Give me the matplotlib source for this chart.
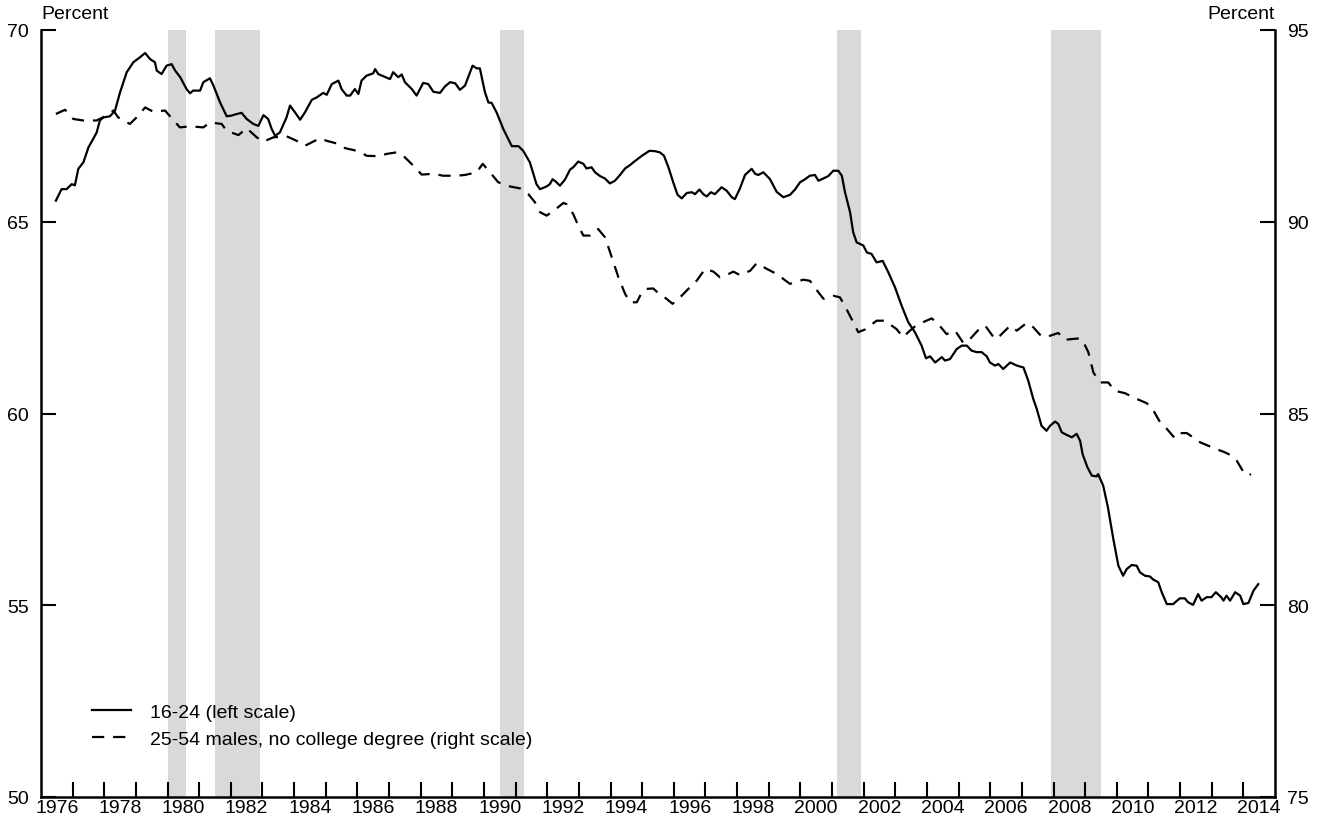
import matplotlib
matplotlib.use("Agg")
import matplotlib.pyplot as plt
from matplotlib.ticker import FixedLocator, NullFormatter

plt.rcParams['font.family'] = ['Liberation Sans', 'DejaVu Sans']

# ---- data: 16-24 (left scale), decimal years ----
young_x = [1976.47, 1976.65, 1976.81, 1976.97, 1977.07, 1977.18, 1977.34, 1977.50, 1977.65, 1977.76,
           1977.86, 1977.97, 1978.18, 1978.34, 1978.50, 1978.71, 1978.92, 1979.13, 1979.29, 1979.45,
           1979.60, 1979.66, 1979.81, 1979.97, 1980.13, 1980.24, 1980.40, 1980.60, 1980.71, 1980.81,
           1981.03, 1981.13, 1981.34, 1981.45, 1981.66, 1981.87, 1982.03, 1982.19, 1982.34, 1982.50,
           1982.71, 1982.87, 1983.03, 1983.18, 1983.29, 1983.40, 1983.55, 1983.76, 1983.87, 1984.03,
           1984.19, 1984.34, 1984.56, 1984.71, 1984.92, 1985.03, 1985.19, 1985.40, 1985.50, 1985.66,
           1985.77, 1985.92, 1986.03, 1986.13, 1986.29, 1986.50, 1986.56, 1986.66, 1987.03, 1987.13,
           1987.29, 1987.40, 1987.50, 1987.72, 1987.87, 1988.08, 1988.24, 1988.40, 1988.61, 1988.77,
           1988.93, 1989.09, 1989.24, 1989.40, 1989.56, 1989.64, 1989.77, 1989.87, 1990.03, 1990.14,
           1990.24, 1990.40, 1990.61, 1990.88, 1991.09, 1991.24, 1991.45, 1991.66, 1991.77, 1991.98,
           1992.08, 1992.17, 1992.28, 1992.40, 1992.56, 1992.72, 1992.82, 1992.98, 1993.14, 1993.24,
           1993.40, 1993.51, 1993.67, 1993.82, 1993.98, 1994.14, 1994.30, 1994.46, 1994.62, 1994.72,
           1994.88, 1994.99, 1995.12, 1995.23, 1995.41, 1995.56, 1995.69, 1995.83, 1995.98, 1996.12,
           1996.25, 1996.41, 1996.57, 1996.67, 1996.81, 1996.93, 1997.04, 1997.17, 1997.30, 1997.51,
           1997.67, 1997.83, 1997.93, 1998.09, 1998.25, 1998.46, 1998.57, 1998.67, 1998.83, 1999.04,
           1999.25, 1999.46, 1999.67, 1999.83, 1999.99, 2000.15, 2000.30, 2000.46, 2000.57, 2000.73,
           2000.88, 2001.04, 2001.20, 2001.31, 2001.41, 2001.57, 2001.67, 2001.78, 2001.89, 2001.99,
           2002.10, 2002.25, 2002.41, 2002.60, 2002.78, 2002.99, 2003.20, 2003.41, 2003.62, 2003.83,
           2003.97, 2004.10, 2004.26, 2004.47, 2004.57, 2004.73, 2004.94, 2005.10, 2005.26, 2005.41,
           2005.57, 2005.73, 2005.89, 2005.99, 2006.15, 2006.26, 2006.41, 2006.63, 2006.84, 2007.05,
           2007.20, 2007.36, 2007.47, 2007.62, 2007.78, 2007.89, 2008.05, 2008.15, 2008.26, 2008.42,
           2008.58, 2008.73, 2008.84, 2008.92, 2009.07, 2009.21, 2009.36, 2009.41, 2009.57, 2009.72,
           2009.89, 2010.05, 2010.20, 2010.31, 2010.47, 2010.63, 2010.73, 2010.89, 2011.05, 2011.15,
           2011.31, 2011.42, 2011.58, 2011.78, 2011.99, 2012.15, 2012.25, 2012.41, 2012.57, 2012.68,
           2012.84, 2012.99, 2013.13, 2013.30, 2013.37, 2013.47, 2013.58, 2013.74, 2013.90, 2014.00,
           2014.16, 2014.32, 2014.47]
young_y = [65.55, 65.85, 65.85, 65.98, 65.95, 66.38, 66.55, 66.94, 67.16, 67.33,
           67.64, 67.72, 67.75, 67.90, 68.38, 68.90, 69.16, 69.29, 69.40, 69.24,
           69.16, 68.94, 68.85, 69.07, 69.11, 68.94, 68.77, 68.46, 68.35, 68.42,
           68.42, 68.64, 68.74, 68.55, 68.11, 67.75, 67.77, 67.81, 67.84, 67.68,
           67.55, 67.50, 67.78, 67.68, 67.42, 67.24, 67.33, 67.72, 68.03, 67.85,
           67.66, 67.85, 68.18, 68.24, 68.36, 68.31, 68.59, 68.68, 68.46, 68.29,
           68.29, 68.46, 68.33, 68.68, 68.81, 68.87, 68.98, 68.85, 68.72, 68.90,
           68.77, 68.84, 68.64, 68.46, 68.29, 68.62, 68.59, 68.39, 68.36, 68.53,
           68.64, 68.61, 68.44, 68.55, 68.90, 69.07, 69.00, 69.00, 68.38, 68.11,
           68.10, 67.85, 67.42, 66.97, 66.97, 66.85, 66.55, 65.98, 65.85, 65.92,
           65.98, 66.11, 66.04, 65.94, 66.10, 66.36, 66.42, 66.57, 66.51, 66.39,
           66.42, 66.29, 66.19, 66.13, 66.00, 66.07, 66.22, 66.39, 66.48, 66.55,
           66.65, 66.72, 66.79, 66.85, 66.84, 66.81, 66.72, 66.42, 66.03, 65.70,
           65.61, 65.75, 65.77, 65.72, 65.84, 65.72, 65.66, 65.77, 65.72, 65.90,
           65.81, 65.64, 65.59, 65.87, 66.22, 66.38, 66.25, 66.22, 66.29, 66.11,
           65.78, 65.64, 65.70, 65.84, 66.03, 66.11, 66.20, 66.22, 66.07, 66.13,
           66.19, 66.33, 66.33, 66.20, 65.77, 65.25, 64.72, 64.46, 64.42, 64.38,
           64.20, 64.16, 63.94, 63.98, 63.68, 63.29, 62.81, 62.38, 62.12, 61.77,
           61.44, 61.49, 61.33, 61.47, 61.38, 61.42, 61.68, 61.77, 61.77, 61.64,
           61.60, 61.60, 61.49, 61.33, 61.25, 61.29, 61.16, 61.33, 61.25, 61.20,
           60.86, 60.38, 60.12, 59.68, 59.55, 59.68, 59.79, 59.73, 59.51, 59.44,
           59.38, 59.47, 59.29, 58.94, 58.60, 58.38, 58.36, 58.42, 58.12, 57.55,
           56.73, 56.03, 55.77, 55.94, 56.05, 56.03, 55.86, 55.77, 55.75, 55.67,
           55.60, 55.34, 55.03, 55.03, 55.18, 55.18, 55.08, 55.01, 55.29, 55.12,
           55.21, 55.21, 55.34, 55.21, 55.12, 55.25, 55.12, 55.34, 55.25, 55.03,
           55.06, 55.38, 55.55]

# ---- data: 25-54 males, no college degree (right scale) ----
male_x = [1976.47, 1976.76, 1977.02, 1977.34, 1977.76, 1978.02, 1978.29, 1978.44, 1978.81, 1979.02,
          1979.29, 1979.55, 1979.92, 1980.13, 1980.39, 1980.71, 1981.13, 1981.34, 1981.71, 1981.87,
          1982.24, 1982.50, 1982.82, 1983.03, 1983.34, 1983.76, 1984.08, 1984.34, 1984.82, 1985.03,
          1985.40, 1985.61, 1986.08, 1986.29, 1986.66, 1986.93, 1987.24, 1987.50, 1987.82, 1988.03,
          1988.40, 1988.71, 1989.14, 1989.40, 1989.77, 1989.96, 1990.19, 1990.45, 1990.82, 1991.14,
          1991.40, 1991.61, 1991.77, 1991.98, 1992.24, 1992.51, 1992.61, 1992.82, 1992.98, 1993.14,
          1993.35, 1993.61, 1993.83, 1994.04, 1994.25, 1994.46, 1994.62, 1994.83, 1994.99, 1995.14,
          1995.35, 1995.51, 1995.77, 1995.96, 1996.20, 1996.46, 1996.72, 1996.99, 1997.25, 1997.46,
          1997.62, 1997.88, 1998.09, 1998.41, 1998.62, 1998.94, 1999.20, 1999.46, 1999.67, 2000.09,
          2000.30, 2000.57, 2000.73, 2001.04, 2001.25, 2001.46, 2001.62, 2001.83, 2002.04, 2002.41,
          2002.67, 2003.04, 2003.25, 2003.46, 2003.68, 2004.15, 2004.36, 2004.62, 2004.89, 2005.15,
          2005.36, 2005.68, 2005.84, 2006.15, 2006.31, 2006.63, 2006.84, 2007.15, 2007.36, 2007.62,
          2007.83, 2008.15, 2008.36, 2008.57, 2008.83, 2008.94, 2009.10, 2009.26, 2009.47, 2009.73,
          2009.94, 2010.26, 2010.52, 2010.94, 2011.10, 2011.37, 2011.58, 2011.84, 2012.05, 2012.21,
          2012.41, 2012.63, 2012.89, 2013.15, 2013.41, 2013.63, 2013.79, 2014.00, 2014.16, 2014.24]
male_y = [92.81, 92.92, 92.68, 92.64, 92.64, 92.75, 92.90, 92.72, 92.55, 92.72,
          92.98, 92.87, 92.90, 92.70, 92.46, 92.49, 92.46, 92.59, 92.55, 92.37,
          92.26, 92.44, 92.20, 92.09, 92.20, 92.23, 92.11, 91.98, 92.18, 92.11,
          92.03, 91.92, 91.83, 91.72, 91.71, 91.77, 91.81, 91.68, 91.42, 91.23,
          91.25, 91.20, 91.20, 91.22, 91.29, 91.51, 91.29, 91.03, 90.92, 90.87,
          90.72, 90.51, 90.25, 90.16, 90.31, 90.49, 90.46, 90.20, 89.90, 89.64,
          89.64, 89.81, 89.59, 89.07, 88.55, 88.12, 87.90, 87.90, 88.16, 88.25,
          88.26, 88.14, 87.99, 87.86, 88.03, 88.25, 88.46, 88.77, 88.70, 88.55,
          88.59, 88.70, 88.61, 88.72, 88.92, 88.77, 88.66, 88.51, 88.38, 88.49,
          88.46, 88.16, 87.99, 88.07, 88.03, 87.72, 87.46, 87.12, 87.19, 87.42,
          87.42, 87.20, 86.99, 87.16, 87.31, 87.48, 87.33, 87.07, 87.16, 86.84,
          86.94, 87.23, 87.29, 86.94, 87.03, 87.29, 87.16, 87.36, 87.25, 87.01,
          87.01, 87.10, 86.92, 86.94, 86.96, 86.87, 86.60, 86.07, 85.81, 85.81,
          85.59, 85.53, 85.42, 85.27, 85.16, 84.77, 84.60, 84.35, 84.49, 84.49,
          84.38, 84.25, 84.16, 84.07, 83.99, 83.90, 83.77, 83.48, 83.38, 83.42]

# ---- recessions (decimal years) ----
rec_start = [1980.0, 1981.5, 1990.5, 2001.17, 2007.92]
rec_end = [1980.58, 1982.92, 1991.25, 2001.92, 2009.5]

year_ticks = list(range(1977, 2015))
year_labels = [str(y) for y in range(1976, 2015, 2)]
left_ticks = [50, 55, 60, 65, 70]
right_ticks = [75, 80, 85, 90, 95]

legend_labels = ["16-24 (left scale)", "25-54 males, no college degree (right scale)"]

FS = 14
fig = plt.figure(figsize=(13.2, 8.2), dpi=100)
ax = fig.add_axes([41/1320, 1 - 798/820, (1275-41)/1320, (798-31)/820])
ax2 = ax.twinx()

for s, e in zip(rec_start, rec_end):
    ax.axvspan(s, e, color='#d9d9d9', lw=0, zorder=0)

l1, = ax.plot(young_x, young_y, color='black', lw=1.6, zorder=3, label=legend_labels[0])
l2, = ax2.plot(male_x, male_y, color='black', lw=1.6, dashes=[5.5, 4], zorder=3,
               label=legend_labels[1])

ax.set_xlim(1976, 2015)
ax.set_ylim(50, 70)
ax2.set_ylim(75, 95)

# x ticks: marks at each year boundary, labels at mid-year of even years
ax.xaxis.set_major_locator(FixedLocator(year_ticks))
ax.xaxis.set_major_formatter(NullFormatter())
ax.set_xticks([int(l) + 0.5 for l in year_labels], minor=True)
ax.set_xticklabels(year_labels, minor=True, fontsize=FS)
ax.tick_params(axis='x', which='major', direction='in', length=11, width=1.5, bottom=True, top=False)
ax.tick_params(axis='x', which='minor', length=0, pad=1.5)

ax.set_yticks(left_ticks)
ax.set_yticklabels([str(v) for v in left_ticks], fontsize=FS)
ax.tick_params(axis='y', which='major', direction='in', length=11, width=1.5, pad=9, left=True, right=False)
ax.yaxis.set_minor_locator(FixedLocator([70]))
ax.tick_params(axis='y', which='minor', direction='in', length=17, width=1.5, left=True, right=False)

ax2.set_yticks(right_ticks)
ax2.set_yticklabels([str(v) for v in right_ticks], fontsize=FS)
ax2.tick_params(axis='y', which='major', direction='in', length=11, width=1.5, pad=9, right=True, left=False)
ax2.yaxis.set_minor_locator(FixedLocator([95]))
ax2.tick_params(axis='y', which='minor', direction='in', length=17, width=1.5, right=True, left=False)

for a in (ax, ax2):
    a.spines['top'].set_visible(False)
    for sp in a.spines.values():
        sp.set_linewidth(1.8)
ax.spines['right'].set_visible(False)
ax2.spines['left'].set_visible(False)
ax2.spines['bottom'].set_visible(False)

ax.text(0.0, 1.01, "Percent", transform=ax.transAxes, ha='left', va='bottom', fontsize=FS)
ax.text(1.0, 1.01, "Percent", transform=ax.transAxes, ha='right', va='bottom', fontsize=FS)

leg = ax2.legend([l1, l2], legend_labels, loc='upper left', bbox_to_anchor=(0.0413, 0.1226),
                 frameon=False, fontsize=FS, handlelength=2.0, handletextpad=1.0,
                 labelspacing=0.5, borderpad=0, borderaxespad=0)

fig.savefig("out.png", dpi=100)
